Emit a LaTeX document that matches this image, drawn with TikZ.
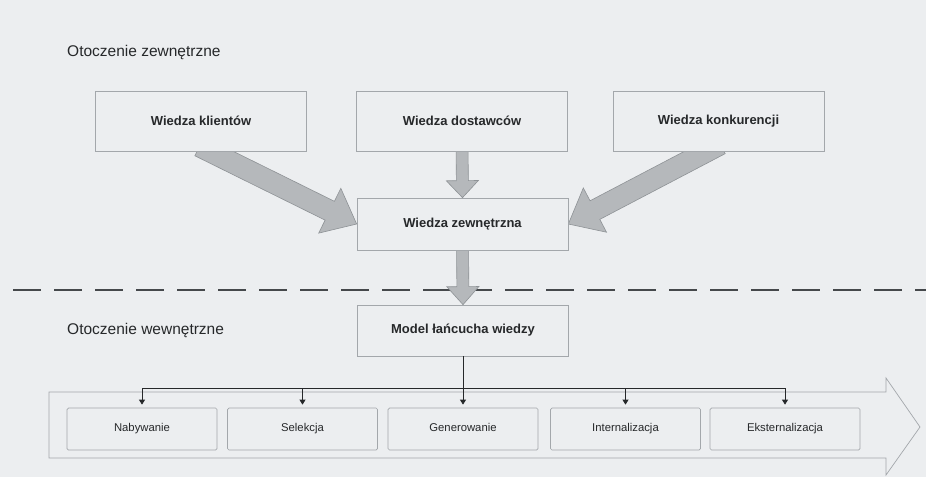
\documentclass[tikz,border=0pt]{standalone}
\usepackage{fontspec}
\setmainfont{Liberation Sans}
\usetikzlibrary{calc,arrows.meta}

\definecolor{bgcol}{HTML}{ECEEF0}
\definecolor{boxline}{HTML}{A3A7AB}
\definecolor{arrfill}{HTML}{B5B8BB}
\definecolor{arrline}{HTML}{8E9296}
\definecolor{inkgray}{HTML}{26282A}
\definecolor{dashcol}{HTML}{45484B}

\pgfdeclarelayer{back}
\pgfsetlayers{back,main}

% wide block arrow: #1 tail, #2 tip, #3 half shaft width, #4 half head width, #5 head length
\newcommand{\blkarrow}[5]{%
  \coordinate (hb) at ($(#2)!#5!(#1)$);
  \filldraw[bigarrow] ($(#1)!#3!90:(#2)$) -- ($(hb)!#3!90:(#2)$) -- ($(hb)!#4!90:(#2)$)
    -- (#2) -- ($(hb)!#4!-90:(#2)$) -- ($(hb)!#3!-90:(#2)$) -- ($(#1)!#3!-90:(#2)$) -- cycle;
}

\tikzset{
  topbox/.style={draw=boxline, line width=0.7pt, fill=bgcol, minimum width=211pt,
    minimum height=60pt, inner sep=0pt, text=inkgray,
    font=\fontsize{13}{15}\selectfont\bfseries},
  midbox/.style={topbox, minimum height=52pt},
  stagebox/.style={draw=boxline, line width=0.7pt, fill=bgcol, rounded corners=1.5pt,
    minimum width=150pt, minimum height=42pt, inner sep=0pt, text=inkgray,
    text height=8.2pt, text depth=2.4pt,
    font=\fontsize{11.3}{13}\selectfont},
  heading/.style={anchor=west, inner sep=0pt, text=inkgray,
    font=\fontsize{15.5}{18}\selectfont},
  bigarrow/.style={fill=arrfill, draw=arrline, line width=0.6pt, line join=miter},
  busline/.style={draw=inkgray, line width=0.8pt},
  busarrow/.style={busline, -{Triangle[length=5pt,width=6pt]}},
  divider/.style={draw=dashcol, line width=2.5pt, dash pattern=on 28pt off 13pt},
  chevron/.style={draw=boxline, line width=0.7pt}
}

\begin{document}
\begin{tikzpicture}[x=1pt,y=-1pt]
\begin{pgfonlayer}{back}
  \fill[bgcol] (0,0) rectangle (926,477);
\end{pgfonlayer}
\useasboundingbox (0,0) rectangle (926,477);

% section titles
\node[heading] (outer) at (67,52) {Otoczenie zewnętrzne};
\node[heading] (inner) at (67,330) {Otoczenie wewnętrzne};

% external knowledge sources
\node[topbox] (kl)  at (201,121)   {Wiedza klientów};
\node[topbox] (dos) at (462,121)   {Wiedza dostawców};
\node[topbox] (kon) at (718.5,121) {Wiedza konkurencji};
\node[midbox] (zew) at (462.5,224) {Wiedza zewnętrzna};
\node[midbox, minimum height=51pt] (mod) at (463,330.5) {Model łańcucha wiedzy};

% tails of the block arrows sit inside the boxes
\coordinate (klT)  at ([xshift=-1.5pt,yshift=5pt]kl.south);
\coordinate (konT) at ([xshift=1.8pt,yshift=7pt]kon.south);
\coordinate (dosT) at ([yshift=8pt]dos.south);
\coordinate (zewT) at ([yshift=8pt]zew.south);

% boundary between the two environments
\coordinate (dL) at (13,290);
\coordinate (dR) at (926,290);

\begin{pgfonlayer}{back}
  \draw[divider] (dL) -- (dR);
  \blkarrow{klT}{zew.west}{10.5pt}{25pt}{30pt}
  \blkarrow{konT}{zew.east}{10.5pt}{25pt}{30pt}
  \blkarrow{dosT}{zew.north}{6pt}{16pt}{17pt}
  \blkarrow{zewT}{mod.north}{6pt}{16pt}{18pt}
\end{pgfonlayer}

% process chevron
\draw[chevron] (49,392) -- (886,392) -- (886,378) -- (920,427) -- (886,475)
  -- (886,458) -- (49,458) -- cycle;

% stages of the knowledge chain
\node[stagebox] (s1) at (142,429)   {Nabywanie};
\node[stagebox] (s2) at (302.5,429) {Selekcja};
\node[stagebox] (s3) at (463,429)   {Generowanie};
\node[stagebox] (s4) at (625.5,429) {Internalizacja};
\node[stagebox] (s5) at (785,429)   {Eksternalizacja};

% distribution bus
\coordinate (bus) at (0,388);
\draw[busline] (mod.south) -- (s3.north |- bus);
\draw[busline] (s1.north |- bus) -- (s5.north |- bus);
\foreach \s in {s1,s2,s3,s4,s5}
  \draw[busarrow] (\s.north |- bus) -- ([yshift=3pt]\s.north);
\end{tikzpicture}
\end{document}
